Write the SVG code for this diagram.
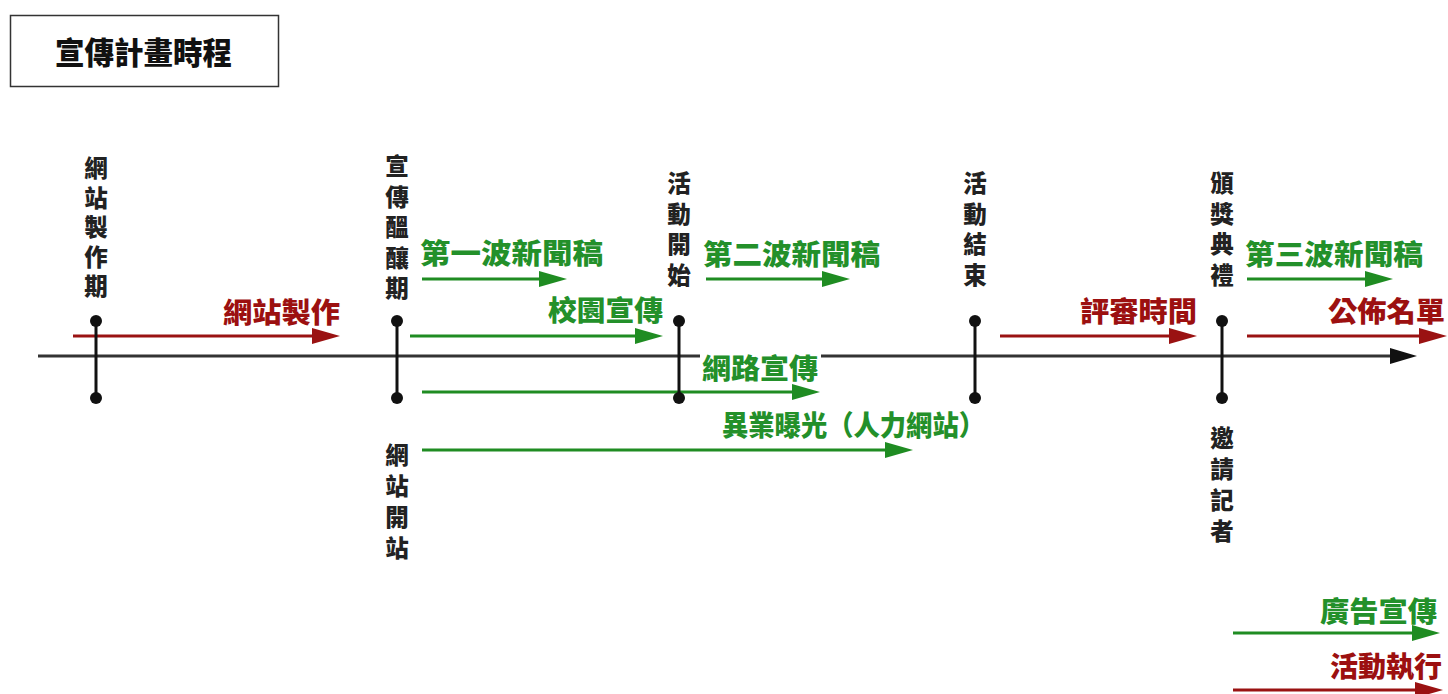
<svg xmlns="http://www.w3.org/2000/svg" width="1448" height="694" viewBox="0 0 1448 694">
<style>
text{font-family:"Liberation Sans","Noto Sans CJK TC","Noto Sans CJK SC",sans-serif;font-weight:900}
.v{font-size:23.5px;fill:#222;text-anchor:middle}
.g{font-size:28px;fill:#23902a}
.r{font-size:28px;fill:#9c1010}
.gl{stroke:#1f8c22;stroke-width:3;fill:none}
.rl{stroke:#9a1212;stroke-width:3;fill:none}
.tick{stroke:#111;stroke-width:3}
.dot{fill:#111}
</style>
<defs>
<marker id="ag" markerUnits="userSpaceOnUse" markerWidth="28" markerHeight="18" viewBox="0 0 28 18" refX="20" refY="9" orient="auto"><path d="M0,1 L28,9 L0,17 z" fill="#1f8c22"/></marker>
<marker id="ar" markerUnits="userSpaceOnUse" markerWidth="28" markerHeight="18" viewBox="0 0 28 18" refX="20" refY="9" orient="auto"><path d="M0,1 L28,9 L0,17 z" fill="#9a1212"/></marker>
<marker id="ak" markerUnits="userSpaceOnUse" markerWidth="28" markerHeight="18" viewBox="0 0 28 18" refX="20" refY="9" orient="auto"><path d="M0,1 L27,9 L0,17 z" fill="#111"/></marker>
</defs>
<rect width="1448" height="694" fill="#fff"/>

<g id="title">
<rect x="10.5" y="15.5" width="268" height="71" fill="#fff" stroke="#333" stroke-width="1.5"/>
<text x="55" y="64" font-size="31" fill="#111" textLength="177" lengthAdjust="spacingAndGlyphs">宣傳計畫時程</text>
</g>

<g id="connectors">
<line x1="38" y1="356" x2="1410" y2="356" stroke="#333" stroke-width="3" marker-end="url(#ak)"/>
<line class="rl" x1="73" y1="336" x2="332" y2="336" marker-end="url(#ar)"/>
<line class="gl" x1="422" y1="279" x2="559" y2="279" marker-end="url(#ag)"/>
<line class="gl" x1="410" y1="336" x2="655" y2="336" marker-end="url(#ag)"/>
<line class="gl" x1="422" y1="392" x2="812" y2="392" marker-end="url(#ag)"/>
<line class="gl" x1="422" y1="450" x2="905" y2="450" marker-end="url(#ag)"/>
<line class="gl" x1="706" y1="279" x2="842" y2="279" marker-end="url(#ag)"/>
<line class="rl" x1="1000" y1="336" x2="1189" y2="336" marker-end="url(#ar)"/>
<line class="gl" x1="1247" y1="279" x2="1385" y2="279" marker-end="url(#ag)"/>
<line class="rl" x1="1247" y1="336" x2="1439" y2="336" marker-end="url(#ar)"/>
<line class="gl" x1="1233" y1="633" x2="1432" y2="633" marker-end="url(#ag)"/>
<line class="rl" x1="1233" y1="690" x2="1435" y2="690" marker-end="url(#ar)"/>
</g>

<g id="m-website">
<line class="tick" x1="96" y1="321" x2="96" y2="398"/>
<circle class="dot" cx="96" cy="321" r="6"/><circle class="dot" cx="96" cy="398" r="6"/>
<text class="v"><tspan x="96" y="177">網</tspan><tspan x="96" y="206.5">站</tspan><tspan x="96" y="236">製</tspan><tspan x="96" y="265.5">作</tspan><tspan x="96" y="295">期</tspan></text>
</g>

<g id="m-promo">
<line class="tick" x1="397" y1="321" x2="397" y2="398"/>
<circle class="dot" cx="397" cy="321" r="6"/><circle class="dot" cx="397" cy="398" r="6"/>
<text class="v"><tspan x="397" y="175">宣</tspan><tspan x="397" y="205.5">傳</tspan><tspan x="397" y="236">醞</tspan><tspan x="397" y="266.5">釀</tspan><tspan x="397" y="297">期</tspan></text>
<text class="v"><tspan x="397" y="464">網</tspan><tspan x="397" y="495">站</tspan><tspan x="397" y="526">開</tspan><tspan x="397" y="557">站</tspan></text>
</g>

<g id="m-start">
<line class="tick" x1="679" y1="321" x2="679" y2="398"/>
<circle class="dot" cx="679" cy="321" r="6"/><circle class="dot" cx="679" cy="398" r="6"/>
<text class="v"><tspan x="679" y="192">活</tspan><tspan x="679" y="222.5">動</tspan><tspan x="679" y="253">開</tspan><tspan x="679" y="283.5">始</tspan></text>
</g>

<g id="m-end">
<line class="tick" x1="975" y1="321" x2="975" y2="398"/>
<circle class="dot" cx="975" cy="321" r="6"/><circle class="dot" cx="975" cy="398" r="6"/>
<text class="v"><tspan x="975" y="192">活</tspan><tspan x="975" y="222.5">動</tspan><tspan x="975" y="253">結</tspan><tspan x="975" y="283.5">束</tspan></text>
</g>

<g id="m-award">
<line class="tick" x1="1222" y1="321" x2="1222" y2="398"/>
<circle class="dot" cx="1222" cy="321" r="6"/><circle class="dot" cx="1222" cy="398" r="6"/>
<text class="v"><tspan x="1222" y="192">頒</tspan><tspan x="1222" y="222.5">獎</tspan><tspan x="1222" y="253">典</tspan><tspan x="1222" y="283.5">禮</tspan></text>
<text class="v"><tspan x="1222" y="447">邀</tspan><tspan x="1222" y="478">請</tspan><tspan x="1222" y="509">記</tspan><tspan x="1222" y="540">者</tspan></text>
</g>

<g id="labels">
<text class="r" x="223" y="323" textLength="117" lengthAdjust="spacingAndGlyphs">網站製作</text>
<text class="g" x="420" y="264" textLength="183" lengthAdjust="spacingAndGlyphs">第一波新聞稿</text>
<text class="g" x="548" y="321" textLength="115" lengthAdjust="spacingAndGlyphs">校園宣傳</text>
<text class="g" x="703" y="265" textLength="177" lengthAdjust="spacingAndGlyphs">第二波新聞稿</text>
<rect x="700" y="350" width="121" height="32" fill="#fff"/>
<text class="g" x="702" y="379" textLength="116" lengthAdjust="spacingAndGlyphs">網路宣傳</text>
<text class="g" x="722" y="436" textLength="263" lengthAdjust="spacingAndGlyphs">異業曝光（人力網站）</text>
<text class="r" x="1080" y="322" textLength="117" lengthAdjust="spacingAndGlyphs">評審時間</text>
<text class="g" x="1245" y="265" textLength="178" lengthAdjust="spacingAndGlyphs">第三波新聞稿</text>
<text class="r" x="1328" y="322" textLength="117" lengthAdjust="spacingAndGlyphs">公佈名單</text>
<text class="g" x="1320" y="622" textLength="117" lengthAdjust="spacingAndGlyphs">廣告宣傳</text>
<text class="r" x="1330" y="677" textLength="112" lengthAdjust="spacingAndGlyphs">活動執行</text>
</g>
</svg>
